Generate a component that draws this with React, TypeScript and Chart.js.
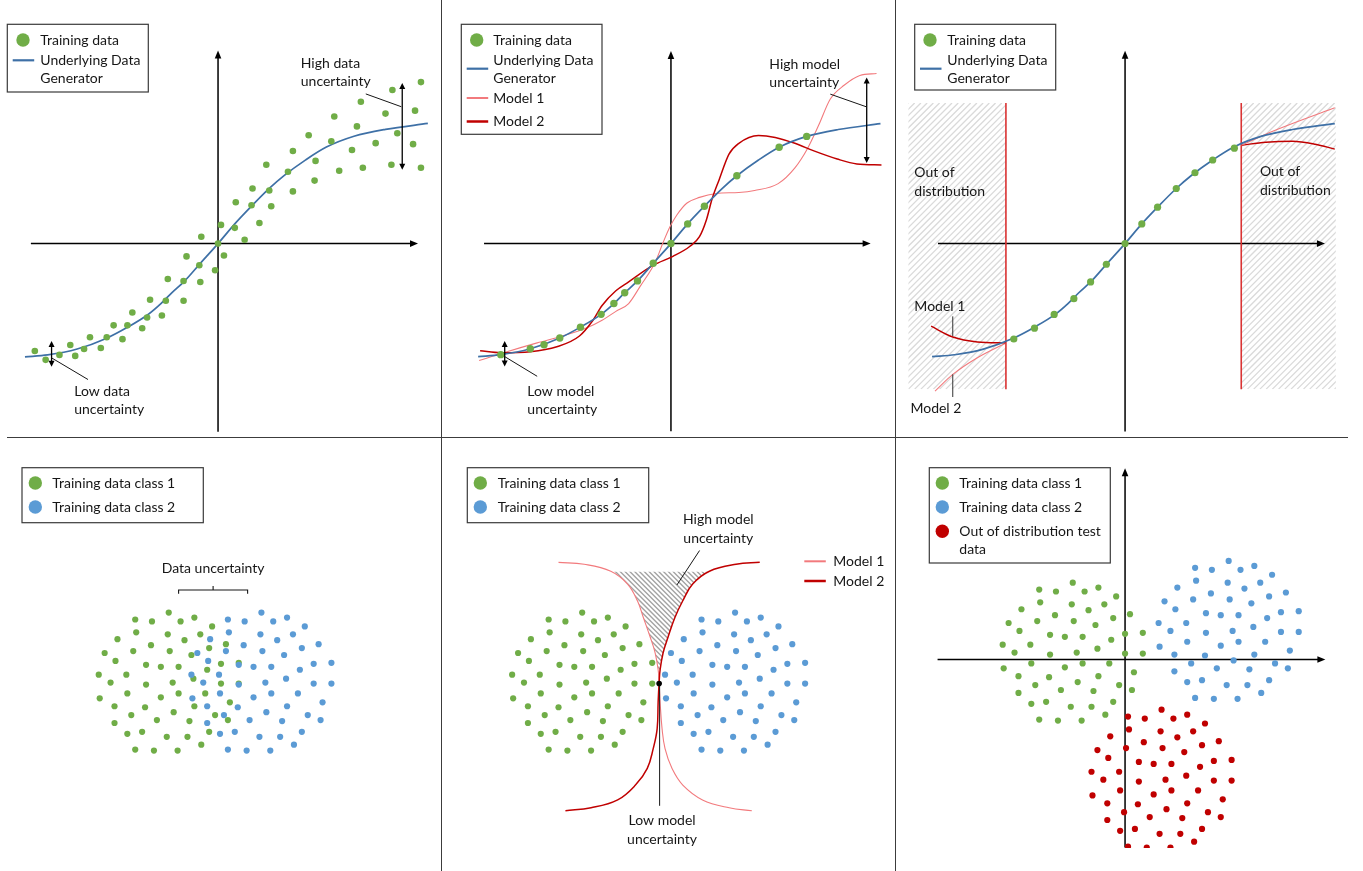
import { useEffect, useRef } from 'react';
import { Chart, registerables } from 'chart.js';

Chart.register(...registerables);

// ---------------- colours & font ----------------
const GREEN = '#70AD47';
const LIGHT_BLUE = '#5B9BD5';
const GEN_BLUE = '#3E70A6';
const LIGHT_RED = '#F27A7D';
const DARK_RED = '#C00000';
const OOD_RED = '#C00000';
const BOUNDARY_RED = '#DA3333';
const INK = '#161616';
const FONT = '14px Lato, "Noto Sans", sans-serif';

// ---------------- data (top row) ----------------
// underlying data generator (shared by the three regression panels)
const GEN_X = [-1.96, -1.73, -1.43, -1.13, -0.92, -0.71, -0.58, -0.47, -0.34, -0.18, 0, 0.17, 0.34, 0.52, 0.67, 0.89, 1.10, 1.38, 1.70, 2.13];
const GEN_Y = [-1.15, -1.13, -1.07, -0.96, -0.85, -0.72, -0.61, -0.50, -0.38, -0.20, 0, 0.20, 0.38, 0.56, 0.69, 0.85, 0.98, 1.09, 1.16, 1.22];

// panel 1: noisy training data
const P1_X = [-1.86, -1.75, -1.61, -1.50, -1.45, -1.36, -1.30, -1.19, -1.13, -1.06, -0.97, -0.92, -0.87, -0.77, -0.72, -0.69, -0.57, -0.53, -0.51, -0.35, -0.35, -0.32, -0.19, -0.18, -0.17, -0.03, 0.00, 0.03, 0.06, 0.17, 0.18, 0.27, 0.34, 0.35, 0.42, 0.49, 0.52, 0.54, 0.71, 0.76, 0.76, 0.92, 0.98, 0.99, 1.15, 1.18, 1.23, 1.36, 1.41, 1.45, 1.47, 1.60, 1.70, 1.76, 1.77, 1.82, 1.98, 2.00, 2.06, 2.06];
const P1_Y = [-1.09, -1.18, -1.13, -1.03, -1.14, -1.07, -0.95, -1.06, -0.95, -0.83, -0.97, -0.83, -0.70, -0.86, -0.75, -0.57, -0.73, -0.58, -0.36, -0.38, -0.58, -0.13, -0.22, -0.39, 0.07, -0.27, 0.00, 0.19, -0.12, 0.16, 0.42, 0.04, 0.39, 0.56, 0.21, 0.80, 0.54, 0.38, 0.73, 0.94, 0.53, 1.10, 0.64, 0.84, 1.04, 1.29, 0.74, 0.95, 1.19, 1.44, 0.77, 1.02, 1.32, 0.80, 1.56, 1.12, 1.01, 1.35, 1.64, 0.77];

// panel 2: clean training data and two models
const P2_X = [-1.73, -1.43, -1.29, -1.13, -0.92, -0.71, -0.58, -0.47, -0.34, -0.18, 0, 0.17, 0.34, 0.67, 1.10, 1.38];
const P2_Y = [-1.13, -1.07, -1.03, -0.96, -0.85, -0.72, -0.61, -0.50, -0.38, -0.20, 0, 0.20, 0.38, 0.69, 0.98, 1.09];
const M1_X = [-1.95, -1.70, -1.36, -1.10, -0.86, -0.70, -0.56, -0.43, -0.31, -0.16, -0.08, -0.01, 0.06, 0.16, 0.29, 0.46, 0.69, 0.85, 1.09, 1.26, 1.39, 1.50, 1.62, 1.76, 1.92, 2.09];
const M1_Y = [-1.19, -1.11, -1.01, -0.94, -0.86, -0.78, -0.69, -0.61, -0.43, -0.19, 0.01, 0.17, 0.29, 0.41, 0.47, 0.51, 0.52, 0.54, 0.61, 0.77, 0.97, 1.20, 1.47, 1.61, 1.71, 1.73];
const M2_X = [-1.94, -1.73, -1.43, -1.16, -0.93, -0.80, -0.70, -0.56, -0.43, -0.18, 0.02, 0.19, 0.29, 0.36, 0.42, 0.49, 0.59, 0.69, 0.89, 1.06, 1.26, 1.46, 1.69, 1.89, 2.14];
const M2_Y = [-1.09, -1.11, -1.10, -1.05, -0.94, -0.79, -0.63, -0.48, -0.39, -0.22, -0.13, -0.03, 0.07, 0.24, 0.46, 0.65, 0.91, 1.02, 1.10, 1.08, 1.02, 0.94, 0.86, 0.81, 0.80];

// panel 3: training data inside the distribution, models outside
const P3_X = [-1.13, -0.92, -0.72, -0.52, -0.35, -0.19, 0, 0.17, 0.33, 0.52, 0.71, 0.89, 1.11];
const P3_Y = [-0.97, -0.86, -0.72, -0.56, -0.39, -0.21, 0, 0.20, 0.37, 0.56, 0.72, 0.85, 0.97];
const OOD_BOUNDS = [-1.21, 1.18];
const P3_DARK_L_X = [-1.97, -1.75, -1.50, -1.21];
const P3_DARK_L_Y = [-0.84, -0.95, -1.00, -1.01];
const P3_LIGHT_L_X = [-1.93, -1.75, -1.50, -1.21];
const P3_LIGHT_L_Y = [-1.50, -1.33, -1.16, -1.01];
const P3_LIGHT_R_X = [1.18, 1.40, 1.70, 2.13];
const P3_LIGHT_R_Y = [1.00, 1.10, 1.22, 1.38];
const P3_DARK_R_X = [1.18, 1.43, 1.70, 1.93, 2.13];
const P3_DARK_R_Y = [1.00, 1.03, 1.04, 1.01, 0.96];

// ---------------- data (bottom row) ----------------
// one cluster shape (offsets from its centre), reused for every class
const CL_DX = [0.00, -0.34, -0.17, 0.12, 0.26, 0.44, -0.33, -0.01, 0.32, -0.52, 0.16, -0.18, 0.58, 0.41, -0.65, -0.36, 0.01, 0.23, -0.54, -0.23, -0.08, 0.10, 0.53, 0.71, 0.39, -0.71, -0.43, 0.25, -0.59, -0.23, 0.04, 0.53, 0.71, -0.42, 0.10, 0.37, -0.08, -0.70, 0.62, -0.55, -0.24, 0.26, 0.05, -0.38, 0.47, -0.12, 0.21, 0.60, -0.55, -0.42, -0.27, 0.41, -0.02, 0.19, 0.33, -0.34, -0.15, 0.09];
const CL_DY = [0.70, 0.63, 0.61, 0.61, 0.65, 0.56, 0.50, 0.48, 0.48, 0.43, 0.42, 0.37, 0.38, 0.34, 0.29, 0.31, 0.31, 0.27, 0.21, 0.17, 0.15, 0.15, 0.18, 0.19, 0.12, 0.07, 0.07, 0.03, -0.01, -0.03, -0.01, -0.02, -0.02, -0.12, -0.12, -0.12, -0.16, -0.17, -0.21, -0.25, -0.26, -0.25, -0.31, -0.34, -0.34, -0.39, -0.40, -0.39, -0.42, -0.53, -0.51, -0.51, -0.56, -0.56, -0.64, -0.69, -0.70, -0.70];
// cluster centres [x, y]
const P4_GREEN_C = [-0.50, 0];
const P4_BLUE_C = [0.44, 0];
const P5_GREEN_C = [-0.90, 0];
const P5_BLUE_C = [0.65, 0];
const P6_GREEN_C = [-0.53, 0.08];
const P6_BLUE_C = [1.05, 0.30];
const P6_RED_C = [0.37, -1.21];

// panel 5: decision boundaries
const B_M1_X = [-1.14, -0.88, -0.61, -0.44, -0.34, -0.28, -0.21, -0.16, -0.13, -0.12, -0.11, -0.09, -0.06, 0.01, 0.12, 0.32, 0.59, 0.82];
const B_M2_X = [0.90, 0.66, 0.39, 0.22, 0.12, 0.04, -0.03, -0.08, -0.11, -0.12, -0.13, -0.14, -0.18, -0.24, -0.36, -0.54, -0.81, -1.07];
const B_Y = [1.21, 1.19, 1.12, 0.99, 0.82, 0.65, 0.45, 0.29, 0.12, -0.01, -0.21, -0.48, -0.68, -0.88, -1.05, -1.20, -1.28, -1.31];

// ---------------- text ----------------
const LEG_TRAIN = ['Training data'];
const LEG_GEN = ['Underlying Data', 'Generator'];
const LEG_M1 = ['Model 1'];
const LEG_M2 = ['Model 2'];
const LEG_C1 = ['Training data class 1'];
const LEG_C2 = ['Training data class 2'];
const LEG_OOD = ['Out of distribution test', 'data'];
const TXT_LOW_DATA = ['Low data', 'uncertainty'];
const TXT_HIGH_DATA = ['High data', 'uncertainty'];
const TXT_LOW_MODEL = ['Low model', 'uncertainty'];
const TXT_HIGH_MODEL = ['High model', 'uncertainty'];
const TXT_OOD = ['Out of', 'distribution'];
const TXT_DATA_UNC = ['Data uncertainty'];

// ---------------- helpers ----------------
type Ctx = CanvasRenderingContext2D;
type Px = (v: number) => number;

const zip = (xs: number[], ys: number[]) => xs.map((x, i) => ({ x, y: ys[i] }));
const cluster = (c: number[]) => CL_DX.map((dx, i) => ({ x: c[0] + dx, y: c[1] + CL_DY[i] }));

const dots = (label: string, data: any[], color: string, r: number) => ({
  type: 'scatter', label, data, backgroundColor: color, borderWidth: 0,
  pointRadius: r, pointHoverRadius: r, showLine: false,
});
// x-monotone curves: monotone cubic through the read points
const curve = (label: string, data: any[], color: string, w: number) => ({
  type: 'line', label, data, borderColor: color, borderWidth: w, pointRadius: 0,
  pointHoverRadius: 0, cubicInterpolationMode: 'monotone', fill: false,
});
// curves that turn back on x (decision boundaries): spline through the points
const spline = (label: string, data: any[], color: string, w: number) => ({
  type: 'line', label, data, borderColor: color, borderWidth: w, pointRadius: 0,
  pointHoverRadius: 0, tension: 0.4, fill: false,
});

function seg(ctx: Ctx, x1: number, y1: number, x2: number, y2: number, color = INK, w = 1) {
  ctx.save();
  ctx.strokeStyle = color; ctx.lineWidth = w;
  ctx.beginPath(); ctx.moveTo(x1, y1); ctx.lineTo(x2, y2); ctx.stroke();
  ctx.restore();
}

function head(ctx: Ctx, x: number, y: number, dx: number, dy: number, len: number, half: number) {
  ctx.beginPath();
  ctx.moveTo(x, y);
  ctx.lineTo(x - dx * len - dy * half, y - dy * len + dx * half);
  ctx.lineTo(x - dx * len + dy * half, y - dy * len - dx * half);
  ctx.closePath();
  ctx.fill();
}

const AX_X = [-1.90, 2.03];
const AX_Y = [-1.91, 1.96];
const AX6_Y = [-1.91, 1.94];

function axes(ctx: Ctx, X: Px, Y: Px, xs: number[], ys: number[]) {
  const x0 = X(0), y0 = Y(0);
  ctx.save();
  ctx.strokeStyle = '#000'; ctx.fillStyle = '#000'; ctx.lineWidth = 1.5;
  ctx.beginPath();
  ctx.moveTo(X(xs[0]), y0); ctx.lineTo(X(xs[1]) - 5, y0);
  ctx.moveTo(x0, Y(ys[0])); ctx.lineTo(x0, Y(ys[1]) + 5);
  ctx.stroke();
  head(ctx, X(xs[1]), y0, 1, 0, 8, 3.3);
  head(ctx, x0, Y(ys[1]), 0, -1, 8, 3.3);
  ctx.restore();
}

function dblArrow(ctx: Ctx, X: Px, Y: Px, x: number, yTop: number, yBot: number) {
  const px = X(x), a = Y(yTop), b = Y(yBot);
  ctx.save();
  ctx.strokeStyle = '#000'; ctx.fillStyle = '#000'; ctx.lineWidth = 1.3;
  ctx.beginPath(); ctx.moveTo(px, a + 4); ctx.lineTo(px, b - 4); ctx.stroke();
  head(ctx, px, a, 0, -1, 6, 3);
  head(ctx, px, b, 0, 1, 6, 3);
  ctx.restore();
}

function texts(ctx: Ctx, x: number, y: number, lines: string[], align: CanvasTextAlign = 'left', lh = 18.3) {
  ctx.save();
  ctx.font = FONT; ctx.fillStyle = INK; ctx.textAlign = align; ctx.textBaseline = 'middle';
  lines.forEach((t, i) => ctx.fillText(t, x, y + i * lh));
  ctx.restore();
}

interface LegendItem { kind: 'dot' | 'line'; color: string; mx: number; my: number; lw?: number; tx: number; ty: number; lines: string[] }

function legend(ctx: Ctx, box: number[] | null, items: LegendItem[]) {
  ctx.save();
  if (box) {
    ctx.strokeStyle = '#3a3a3a'; ctx.lineWidth = 1.2;
    ctx.strokeRect(box[0], box[1], box[2] - box[0], box[3] - box[1]);
  }
  for (const it of items) {
    if (it.kind === 'dot') {
      ctx.fillStyle = it.color;
      ctx.beginPath(); ctx.arc(it.mx, it.my, 6.7, 0, Math.PI * 2); ctx.fill();
    } else {
      seg(ctx, it.mx, it.my, it.mx + 21.5, it.my, it.color, it.lw ?? 2.2);
    }
    texts(ctx, it.tx, it.ty, it.lines);
  }
  ctx.restore();
}

function hatchLines(ctx: Ctx, bx0: number, by0: number, bx1: number, by1: number, gap: number, dir: number, color: string, lw: number) {
  const w = bx1 - bx0, h = by1 - by0, step = gap * Math.SQRT2;
  ctx.strokeStyle = color; ctx.lineWidth = lw;
  ctx.beginPath();
  for (let c = -h; c < w + h; c += step) {
    if (dir > 0) { ctx.moveTo(bx0 + c, by1); ctx.lineTo(bx0 + c + h, by0); }
    else { ctx.moveTo(bx0 + c, by0); ctx.lineTo(bx0 + c + h, by1); }
  }
  ctx.stroke();
}

function trace(ctx: Ctx, pts: any[], from: number, to: number, move: boolean) {
  if (move) ctx.moveTo(pts[from].x, pts[from].y); else ctx.lineTo(pts[from].x, pts[from].y);
  if (to > from) {
    for (let i = from; i < to; i++) {
      const a = pts[i], b = pts[i + 1];
      ctx.bezierCurveTo(a.cp2x ?? a.x, a.cp2y ?? a.y, b.cp1x ?? b.x, b.cp1y ?? b.y, b.x, b.y);
    }
  } else {
    for (let i = from; i > to; i--) {
      const a = pts[i], b = pts[i - 1];
      ctx.bezierCurveTo(a.cp1x ?? a.x, a.cp1y ?? a.y, b.cp2x ?? b.x, b.cp2y ?? b.y, b.x, b.y);
    }
  }
}

function metaPoints(chart: any, label: string) {
  const idx = chart.data.datasets.findIndex((d: any) => d.label === label);
  return chart.getDatasetMeta(idx).data as any[];
}

// ---------------- panels ----------------
interface PanelSpec {
  left: number; top: number; width: number; height: number; ox: number; oy: number;
  datasets: any[];
  under?: (ctx: Ctx, X: Px, Y: Px, chart: any) => void;
  over?: (ctx: Ctx, X: Px, Y: Px, chart: any) => void;
}

const PANELS: PanelSpec[] = [
  // 1: data uncertainty (regression)
  {
    left: 0, top: 0, width: 441, height: 437, ox: 218, oy: 244,
    datasets: [
      dots('Training data', zip(P1_X, P1_Y), GREEN, 3.3),
      curve('Underlying Data Generator', zip(GEN_X, GEN_Y), GEN_BLUE, 1.7),
    ],
    under: (ctx, X, Y) => axes(ctx, X, Y, AX_X, AX_Y),
    over: (ctx, X, Y) => {
      dblArrow(ctx, X, Y, -1.69, -0.99, -1.25);
      seg(ctx, X(-1.69), Y(-1.16), X(-1.32), Y(-1.38));
      texts(ctx, X(-1.46), Y(-1.50), TXT_LOW_DATA);
      dblArrow(ctx, X, Y, 1.87, 1.63, 0.75);
      seg(ctx, X(1.50), Y(1.52), X(1.86), Y(1.39));
      texts(ctx, X(0.84), Y(1.83), TXT_HIGH_DATA);
      legend(ctx, [7.3, 24.3, 148.3, 92], [
        { kind: 'dot', color: GREEN, mx: 23, my: 40, tx: 40.3, ty: 40, lines: LEG_TRAIN },
        { kind: 'line', color: GEN_BLUE, mx: 12.7, my: 60.3, tx: 40.3, ty: 60.3, lines: LEG_GEN },
      ]);
    },
  },
  // 2: model uncertainty (regression)
  {
    left: 441, top: 0, width: 454, height: 437, ox: 230, oy: 244,
    datasets: [
      dots('Training data', zip(P2_X, P2_Y), GREEN, 3.7),
      curve('Underlying Data Generator', zip(GEN_X, GEN_Y), GEN_BLUE, 1.7),
      curve('Model 2', zip(M2_X, M2_Y), DARK_RED, 1.5),
      curve('Model 1', zip(M1_X, M1_Y), LIGHT_RED, 1.1),
    ],
    under: (ctx, X, Y) => axes(ctx, X, Y, AX_X, AX_Y),
    over: (ctx, X, Y) => {
      dblArrow(ctx, X, Y, -1.69, -0.99, -1.25);
      seg(ctx, X(-1.69), Y(-1.15), X(-1.36), Y(-1.35));
      texts(ctx, X(-1.46), Y(-1.50), TXT_LOW_MODEL);
      dblArrow(ctx, X, Y, 1.99, 1.69, 0.82);
      seg(ctx, X(1.62), Y(1.52), X(1.99), Y(1.39));
      texts(ctx, X(1.00), Y(1.82), TXT_HIGH_MODEL);
      legend(ctx, [20.3, 24.3, 161, 134.3], [
        { kind: 'dot', color: GREEN, mx: 35.7, my: 40, tx: 52.3, ty: 40, lines: LEG_TRAIN },
        { kind: 'line', color: GEN_BLUE, mx: 25.7, my: 68.7, tx: 52.3, ty: 60.3, lines: LEG_GEN },
        { kind: 'line', color: LIGHT_RED, mx: 25.7, my: 98, tx: 52.3, ty: 98, lines: LEG_M1, lw: 2 },
        { kind: 'line', color: DARK_RED, mx: 25.7, my: 121.5, tx: 52.3, ty: 121, lines: LEG_M2, lw: 2.5 },
      ]);
    },
  },
  // 3: out of distribution (regression)
  {
    left: 895, top: 0, width: 468, height: 437, ox: 230, oy: 244,
    datasets: [
      dots('Training data', zip(P3_X, P3_Y), GREEN, 3.6),
      curve('Underlying Data Generator', zip(GEN_X, GEN_Y), GEN_BLUE, 1.7),
      curve('Model 1 left', zip(P3_DARK_L_X, P3_DARK_L_Y), DARK_RED, 1.4),
      curve('Model 2 left', zip(P3_LIGHT_L_X, P3_LIGHT_L_Y), LIGHT_RED, 1.1),
      curve('Model 1 right', zip(P3_LIGHT_R_X, P3_LIGHT_R_Y), LIGHT_RED, 1.1),
      curve('Model 2 right', zip(P3_DARK_R_X, P3_DARK_R_Y), DARK_RED, 1.4),
    ],
    under: (ctx, X, Y) => {
      const top = Y(1.43), bot = Y(-1.48);
      const regions = [[-2.20, OOD_BOUNDS[0]], [OOD_BOUNDS[1], 2.14]];
      for (const r of regions) {
        ctx.save();
        ctx.beginPath(); ctx.rect(X(r[0]), top, X(r[1]) - X(r[0]), bot - top); ctx.clip();
        hatchLines(ctx, X(r[0]), top, X(r[1]), bot, 4.4, 1, '#DADADA', 1.3);
        ctx.restore();
      }
      axes(ctx, X, Y, AX_X, AX_Y);
      for (const b of OOD_BOUNDS) seg(ctx, X(b), top, X(b), bot, BOUNDARY_RED, 1.6);
    },
    over: (ctx, X, Y) => {
      texts(ctx, X(-2.14), Y(0.72), TXT_OOD);
      texts(ctx, X(1.37), Y(0.73), TXT_OOD);
      texts(ctx, X(-2.14), Y(-0.64), LEG_M1);
      texts(ctx, X(-2.18), Y(-1.68), LEG_M2);
      seg(ctx, X(-1.75), Y(-0.74), X(-1.75), Y(-0.94), '#333', 1);
      seg(ctx, X(-1.75), Y(-1.33), X(-1.75), Y(-1.56), '#333', 1);
      legend(ctx, [19.7, 24.3, 160.7, 90], [
        { kind: 'dot', color: GREEN, mx: 35, my: 40, tx: 52.3, ty: 40, lines: LEG_TRAIN },
        { kind: 'line', color: GEN_BLUE, mx: 25, my: 68.7, tx: 52.3, ty: 60.3, lines: LEG_GEN },
      ]);
    },
  },
  // 4: data uncertainty (classification)
  {
    left: 0, top: 437, width: 441, height: 434, ox: 218, oy: 245,
    datasets: [
      dots('Training data class 2', cluster(P4_BLUE_C), LIGHT_BLUE, 3.1),
      dots('Training data class 1', cluster(P4_GREEN_C), GREEN, 3.1),
    ],
    over: (ctx, X, Y) => {
      ctx.save();
      ctx.strokeStyle = INK; ctx.lineWidth = 1.1;
      ctx.beginPath();
      ctx.moveTo(X(-0.40), Y(0.89)); ctx.lineTo(X(-0.40), Y(0.93)); ctx.lineTo(X(0.30), Y(0.93)); ctx.lineTo(X(0.30), Y(0.89));
      ctx.moveTo(X(-0.05), Y(0.93)); ctx.lineTo(X(-0.05), Y(0.97));
      ctx.stroke();
      ctx.restore();
      texts(ctx, X(-0.05), Y(1.15), TXT_DATA_UNC, 'center');
      legend(ctx, [22, 30.7, 203.3, 85.7], [
        { kind: 'dot', color: GREEN, mx: 35.3, my: 46, tx: 52.3, ty: 46, lines: LEG_C1 },
        { kind: 'dot', color: LIGHT_BLUE, mx: 35.3, my: 70, tx: 52.3, ty: 70, lines: LEG_C2 },
      ]);
    },
  },
  // 5: model uncertainty (classification)
  {
    left: 441, top: 437, width: 454, height: 434, ox: 230, oy: 245,
    datasets: [
      dots('Training data class 2', cluster(P5_BLUE_C), LIGHT_BLUE, 3.1),
      dots('Training data class 1', cluster(P5_GREEN_C), GREEN, 3.1),
      spline('Model 2', zip(B_M2_X, B_Y), DARK_RED, 1.5),
      spline('Model 1', zip(B_M1_X, B_Y), LIGHT_RED, 1.1),
    ],
    under: (ctx, X, Y, chart) => {
      const m1 = metaPoints(chart, 'Model 1');
      const m2 = metaPoints(chart, 'Model 2');
      const cross = 9;
      ctx.save();
      ctx.beginPath(); ctx.rect(0, Y(1.115), chart.width, chart.height); ctx.clip();
      ctx.beginPath();
      trace(ctx, m1, 0, cross, true);
      trace(ctx, m2, cross, 0, false);
      ctx.closePath();
      ctx.clip();
      hatchLines(ctx, X(-1.2), Y(1.25), X(1.0), Y(-0.1), 3.4, -1, '#A3A3A3', 1.4);
      ctx.restore();
    },
    over: (ctx, X, Y) => {
      seg(ctx, X(-0.115), Y(-0.02), X(-0.115), Y(-1.26), INK, 1);
      ctx.save(); ctx.fillStyle = '#000';
      ctx.beginPath(); ctx.arc(X(-0.12), Y(-0.02), 2.8, 0, Math.PI * 2); ctx.fill();
      ctx.restore();
      texts(ctx, X(-0.09), Y(-1.41), TXT_LOW_MODEL, 'center', 18.6);
      texts(ctx, X(0.48), Y(1.64), TXT_HIGH_MODEL, 'center', 19);
      seg(ctx, X(0.29), Y(1.33), X(0.06), Y(0.98), INK, 1);
      legend(ctx, null, [
        { kind: 'line', color: LIGHT_RED, mx: 363.3, my: 124.3, tx: 392.3, ty: 124.3, lines: LEG_M1, lw: 2 },
        { kind: 'line', color: DARK_RED, mx: 363.3, my: 144, tx: 392.3, ty: 144, lines: LEG_M2, lw: 2.5 },
      ]);
      legend(ctx, [26.3, 30.7, 207.7, 85.7], [
        { kind: 'dot', color: GREEN, mx: 39.3, my: 46, tx: 56.7, ty: 46, lines: LEG_C1 },
        { kind: 'dot', color: LIGHT_BLUE, mx: 39.3, my: 70, tx: 56.7, ty: 70, lines: LEG_C2 },
      ]);
    },
  },
  // 6: out of distribution (classification)
  {
    left: 895, top: 437, width: 468, height: 414, ox: 230, oy: 222.7,
    datasets: [
      dots('Out of distribution test data', cluster(P6_RED_C), OOD_RED, 3.1),
      dots('Training data class 2', cluster(P6_BLUE_C), LIGHT_BLUE, 3.1),
      dots('Training data class 1', cluster(P6_GREEN_C), GREEN, 3.1),
    ],
    under: (ctx, X, Y) => axes(ctx, X, Y, AX_X, AX6_Y),
    over: (ctx) => {
      legend(ctx, [34.3, 30.7, 215.3, 126], [
        { kind: 'dot', color: GREEN, mx: 47.3, my: 46, tx: 64.3, ty: 46, lines: LEG_C1 },
        { kind: 'dot', color: LIGHT_BLUE, mx: 47.3, my: 70, tx: 64.3, ty: 70, lines: LEG_C2 },
        { kind: 'dot', color: OOD_RED, mx: 47.3, my: 94.3, tx: 64.3, ty: 94.3, lines: LEG_OOD },
      ]);
    },
  },
];

function buildConfig(p: PanelSpec): any {
  const plugin = {
    id: 'figureDecor',
    beforeDatasetsDraw(chart: any) {
      if (!p.under) return;
      const X = (v: number) => chart.scales.x.getPixelForValue(v);
      const Y = (v: number) => chart.scales.y.getPixelForValue(v);
      p.under(chart.ctx, X, Y, chart);
    },
    afterDatasetsDraw(chart: any) {
      if (!p.over) return;
      const X = (v: number) => chart.scales.x.getPixelForValue(v);
      const Y = (v: number) => chart.scales.y.getPixelForValue(v);
      p.over(chart.ctx, X, Y, chart);
    },
  };
  return {
    type: 'scatter',
    data: { datasets: p.datasets },
    options: {
      animation: false,
      responsive: false,
      events: [],
      layout: { padding: 0 },
      scales: {
        x: { type: 'linear', display: false, min: -p.ox / 100, max: (p.width - p.ox) / 100 },
        y: { type: 'linear', display: false, min: -(p.height - p.oy) / 100, max: p.oy / 100 },
      },
      plugins: { legend: { display: false }, tooltip: { enabled: false } },
    },
    plugins: [plugin],
  };
}

export default function App() {
  const refs = useRef<(HTMLCanvasElement | null)[]>([]);
  useEffect(() => {
    const charts = PANELS.map((p, i) => new Chart(refs.current[i] as HTMLCanvasElement, buildConfig(p)));
    return () => charts.forEach((c) => c.destroy());
  }, []);
  const sep = '#3c3c3c';
  return (
    <div style={{ position: 'absolute', left: 0, top: 0, width: 1363, height: 871, background: '#fff', overflow: 'hidden' }}>
      <div style={{ position: 'absolute', left: 7, top: 437, width: 1341, height: 1, background: sep }} />
      <div style={{ position: 'absolute', left: 441, top: 0, width: 1, height: 871, background: sep }} />
      <div style={{ position: 'absolute', left: 895, top: 0, width: 1, height: 871, background: sep }} />
      {PANELS.map((p, i) => (
        <canvas
          key={i}
          ref={(el) => { refs.current[i] = el; }}
          width={p.width}
          height={p.height}
          style={{ position: 'absolute', left: p.left, top: p.top, width: p.width, height: p.height }}
        />
      ))}
    </div>
  );
}
